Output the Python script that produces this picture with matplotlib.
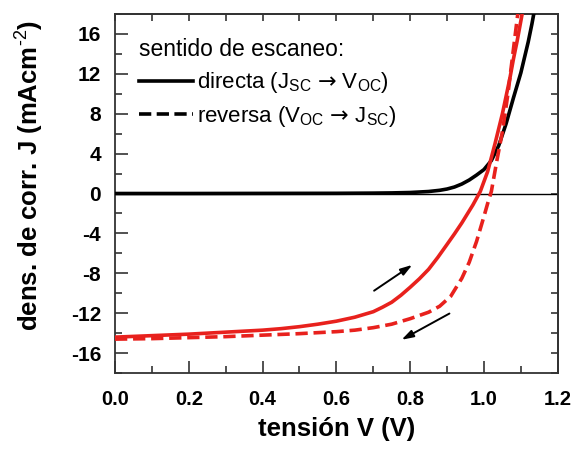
"""
J-V curves (forward / reverse scan) plus dark curve.
"""
import numpy as np
import matplotlib
matplotlib.use("Agg")
import matplotlib.pyplot as plt
from matplotlib.lines import Line2D
from matplotlib.ticker import MultipleLocator, FormatStrFormatter

plt.rcParams['font.family'] = ['Liberation Sans', 'DejaVu Sans']
plt.rcParams['mathtext.fontset'] = 'custom'
plt.rcParams['mathtext.rm'] = 'Liberation Sans'
plt.rcParams['mathtext.it'] = 'Liberation Sans'
plt.rcParams['mathtext.bf'] = 'Liberation Sans:bold'
plt.rcParams['mathtext.sf'] = 'DejaVu Sans'
plt.rcParams['mathtext.default'] = 'regular'
plt.rcParams['axes.unicode_minus'] = False

# dark curve (black)
V_DARK = [0.0, 0.2, 0.4, 0.6, 0.7, 0.75, 0.8, 0.85, 0.88, 0.9, 0.92, 0.94,
          0.96, 0.98, 1.0, 1.02, 1.04, 1.06, 1.08, 1.10, 1.12, 1.13, 1.14]
J_DARK = [0.0, 0.0, 0.01, 0.02, 0.04, 0.06, 0.1, 0.2, 0.32, 0.45, 0.65, 0.95,
          1.35, 1.85, 2.4, 3.3, 4.8, 7.0, 9.6, 12.1, 15.2, 17.0, 19.0]

# forward scan (red solid)
V_FWD = [0.0, 0.1, 0.2, 0.3, 0.4, 0.45, 0.5, 0.55, 0.6, 0.65, 0.7, 0.725,
         0.75, 0.775, 0.8, 0.825, 0.85, 0.875, 0.9, 0.92, 0.94, 0.97, 0.99,
         1.01, 1.03, 1.05, 1.07, 1.08, 1.09, 1.10, 1.11]
J_FWD = [-14.4, -14.25, -14.1, -13.9, -13.7, -13.55, -13.35, -13.1, -12.8,
         -12.4, -11.85, -11.4, -10.9, -10.2, -9.4, -8.55, -7.6, -6.4, -5.1,
         -4.05, -2.95, -1.15, 0.2, 2.2, 5.0, 8.0, 11.5, 13.5, 15.3, 17.3, 19.3]

# reverse scan (red dashed)
V_REV = [0.0, 0.1, 0.2, 0.3, 0.4, 0.5, 0.6, 0.65, 0.7, 0.75, 0.8, 0.85,
         0.88, 0.91, 0.94, 0.96, 0.98, 1.0, 1.01, 1.02, 1.035, 1.05, 1.065,
         1.08, 1.09, 1.10]
J_REV = [-14.6, -14.55, -14.45, -14.35, -14.2, -14.05, -13.85, -13.7, -13.45,
         -13.1, -12.55, -11.9, -11.3, -10.3, -8.5, -6.9, -4.8, -2.3, -1.0, 0.2,
         3.3, 6.2, 10.0, 14.5, 17.5, 20.5]

# scan direction arrows (tail, head)
ARROW_FWD = [(0.696, -9.9), (0.812, -7.0)]
ARROW_REV = [(0.913, -11.9), (0.770, -14.8)]

RED = '#e8211d'
DASH = (0, (3.4, 1.6))

fig = plt.figure(figsize=(5.75, 4.5), dpi=100)
ax = fig.add_axes([0.2, 0.171, 0.770, 0.798])

ax.axhline(0, color='black', linewidth=1.0, zorder=1)
ax.plot(V_DARK, J_DARK, color='black', linewidth=2.6, zorder=3,
        solid_joinstyle='round')
ax.plot(V_REV, J_REV, color=RED, linewidth=2.6, linestyle=DASH, zorder=3)
ax.plot(V_FWD, J_FWD, color=RED, linewidth=2.6, zorder=4,
        solid_joinstyle='round')

for tail, head in (ARROW_FWD, ARROW_REV):
    ax.annotate('', xy=head, xytext=tail,
                arrowprops=dict(arrowstyle='-|>,head_length=0.7,head_width=0.22',
                                color='black', linewidth=1.4))

ax.set_xlim(0, 1.2)
ax.set_ylim(-18, 18)
ax.xaxis.set_major_locator(MultipleLocator(0.2))
ax.xaxis.set_minor_locator(MultipleLocator(0.1))
ax.yaxis.set_major_locator(MultipleLocator(4))
ax.yaxis.set_minor_locator(MultipleLocator(2))
ax.xaxis.set_major_formatter(FormatStrFormatter('%.1f'))
ax.tick_params(which='major', direction='in', length=9, width=1.2,
               color='#333333')
ax.tick_params(which='minor', direction='in', length=5, width=1.2, color='#333333')
ax.tick_params(axis='x', which='major', labelsize=14.5, pad=12)
ax.tick_params(axis='y', which='major', labelsize=15, pad=10)
for lab in ax.get_xticklabels() + ax.get_yticklabels():
    lab.set_fontweight('bold')

# top / right: short ticks only
top = ax.secondary_xaxis('top')
top.xaxis.set_major_locator(MultipleLocator(0.1))
top.tick_params(direction='in', length=5, width=1.2, labeltop=False, color='#333333')
right = ax.secondary_yaxis('right')
right.yaxis.set_major_locator(MultipleLocator(2))
right.tick_params(direction='in', length=5, width=1.2, labelright=False, color='#333333')
for a in (ax, top, right):
    for s in a.spines.values():
        s.set_linewidth(1.3)
        s.set_color('#333333')

ax.set_xlabel('tensión V (V)', fontsize=18.5, fontweight='bold', labelpad=6)
ax.set_ylabel('dens. de corr. J (mAcm$^{\\text{-2}}$)', fontsize=18.5,
              fontweight='bold')
ax.yaxis.set_label_coords(-0.155, 0.55)

handles = [Line2D([], [], color='black', linewidth=2.6),
           Line2D([], [], color='black', linewidth=2.6, linestyle=(0, (3.4, 1.5)))]
labels = ['directa (J$_{SC}$ $\\mathsf{→}$ V$_{OC}$)',
          'reversa (V$_{OC}$ $\\mathsf{→}$ J$_{SC}$)']
leg = ax.legend(handles, labels, loc='upper left', frameon=False, fontsize=16,
                title='sentido de escaneo:', title_fontsize=16.5,
                handlelength=2.4, handletextpad=0.2, labelspacing=0.4,
                borderaxespad=0.7, alignment='left')

fig.savefig('out.png', dpi=100)
